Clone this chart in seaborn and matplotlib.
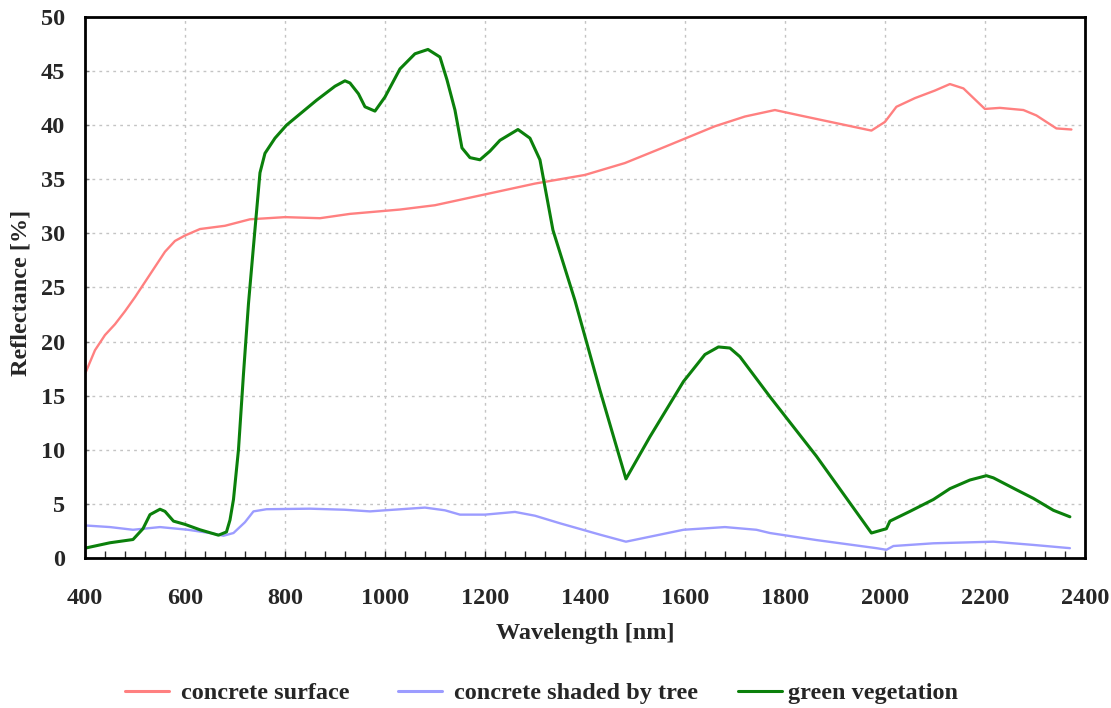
import pandas as pd
import matplotlib
matplotlib.use("Agg")
import matplotlib.pyplot as plt
from matplotlib.ticker import MultipleLocator
import seaborn as sns

# data
wl_concrete = [400, 420, 440, 460, 480, 500, 520, 540, 560, 580, 600, 630, 680, 730, 800, 870, 930,
               1030, 1100, 1200, 1300, 1400, 1480, 1560, 1660, 1720, 1780, 1830, 1973, 2000, 2023,
               2060, 2100, 2130, 2157, 2200, 2230, 2277, 2303, 2343, 2373]
refl_concrete = [17.0, 19.2, 20.6, 21.6, 22.8, 24.1, 25.5, 26.9, 28.3, 29.3, 29.8, 30.4, 30.7, 31.3,
                 31.5, 31.4, 31.8, 32.2, 32.6, 33.6, 34.6, 35.4, 36.5, 38.0, 39.9, 40.8, 41.4, 40.9,
                 39.5, 40.3, 41.7, 42.5, 43.2, 43.8, 43.4, 41.5, 41.6, 41.4, 40.9, 39.7, 39.6]

wl_shaded = [400, 450, 496, 550, 606, 650, 677, 697, 720, 737, 763, 850, 920, 970, 1000, 1080, 1120,
             1150, 1200, 1260, 1300, 1350, 1430, 1482, 1597, 1680, 1743, 1770, 1863, 1983, 2003,
             2017, 2097, 2217, 2297, 2370]
refl_shaded = [3.0, 2.85, 2.6, 2.85, 2.6, 2.3, 2.05, 2.3, 3.3, 4.3, 4.5, 4.55, 4.45, 4.3, 4.4, 4.65,
               4.4, 4.0, 4.0, 4.25, 3.9, 3.2, 2.15, 1.5, 2.6, 2.85, 2.6, 2.3, 1.65, 0.9, 0.75, 1.1,
               1.35, 1.5, 1.2, 0.9]

wl_veg = [400, 450, 496, 516, 530, 550, 560, 577, 600, 630, 667, 683, 690, 697, 707, 717, 727, 737,
          750, 760, 780, 803, 863, 900, 920, 930, 947, 960, 980, 1000, 1030, 1060, 1086, 1110, 1124,
          1140, 1154, 1170, 1190, 1210, 1230, 1266, 1290, 1310, 1336, 1380, 1430, 1482, 1530, 1597,
          1640, 1667, 1690, 1710, 1770, 1863, 1973, 2003, 2010, 2050, 2097, 2130, 2170, 2203, 2217,
          2263, 2297, 2337, 2370]
refl_veg = [0.9, 1.4, 1.7, 2.7, 4.0, 4.5, 4.3, 3.4, 3.1, 2.6, 2.1, 2.4, 3.5, 5.4, 10.0, 17.0, 23.5,
            28.8, 35.6, 37.4, 38.8, 40.0, 42.3, 43.6, 44.1, 43.9, 42.9, 41.7, 41.3, 42.6, 45.2, 46.6,
            47.0, 46.3, 44.2, 41.4, 37.9, 37.0, 36.8, 37.6, 38.6, 39.6, 38.8, 36.8, 30.3, 23.8, 15.5,
            7.3, 11.2, 16.3, 18.8, 19.5, 19.4, 18.6, 14.9, 9.4, 2.3, 2.7, 3.4, 4.3, 5.4, 6.4, 7.2,
            7.6, 7.4, 6.3, 5.5, 4.4, 3.8]

labels = ["concrete surface", "concrete shaded by tree", "green vegetation"]
colors = ["#ff8080", "#9c9cff", "#0b800b"]

df = pd.concat([
    pd.DataFrame({"wl": wl_concrete, "r": refl_concrete, "s": labels[0]}),
    pd.DataFrame({"wl": wl_shaded, "r": refl_shaded, "s": labels[1]}),
    pd.DataFrame({"wl": wl_veg, "r": refl_veg, "s": labels[2]}),
])

sns.set_style("white")
plt.rcParams["font.family"] = ["Liberation Serif", "DejaVu Serif"]
plt.rcParams["font.weight"] = "bold"

fig = plt.figure(figsize=(11.11, 7.08), dpi=100)
ax = fig.add_axes([0.0765, 0.212, 0.9, 0.764])

for lab, col, lw in zip(labels, colors, [1.7, 1.7, 2.2]):
    sns.lineplot(data=df[df["s"] == lab], x="wl", y="r", color=col, lw=lw, label=lab,
                 estimator=None, sort=False, ax=ax, legend=False)

ax.set_xlim(400, 2400)
ax.set_ylim(0, 50)
ax.xaxis.set_major_locator(MultipleLocator(200))
ax.xaxis.set_minor_locator(MultipleLocator(40))
ax.yaxis.set_major_locator(MultipleLocator(5))
ax.grid(True, which="major", color="#c4c4c4", linestyle=(0, (2, 3)), linewidth=1)
ax.tick_params(axis="x", which="both", direction="in", bottom=True, length=5, width=1,
               labelsize=17.5, pad=22)
ax.tick_params(axis="y", which="both", direction="in", left=True, length=3, width=1,
               color="#777777", labelsize=17.5, pad=14.5)
for sp in ax.spines.values():
    sp.set_color("black")
    sp.set_linewidth(2)

ax.set_xlabel("Wavelength [nm]", fontsize=17.5, fontweight="bold")
ax.set_ylabel("Reflectance [%]", fontsize=17.5, fontweight="bold")
ax.xaxis.set_label_coords(0.5, -0.12)
ax.yaxis.set_label_coords(-0.053, 0.489)

# three one-entry legends, spaced as in the reference
handles, labs = ax.get_legend_handles_labels()
for h, l, x0, tp in zip(handles, labs, [0.1125, 0.3582, 0.6643], [0.5, 0.5, 0.25]):
    leg = fig.legend([h], [l], loc="center left", bbox_to_anchor=(x0, 0.021), frameon=False,
                     fontsize=17.5, handlelength=1.8, handletextpad=tp, borderpad=0,
                     borderaxespad=0)
    leg.get_lines()[0].set_linewidth(2.2)

fig.savefig("out.png", dpi=100)
